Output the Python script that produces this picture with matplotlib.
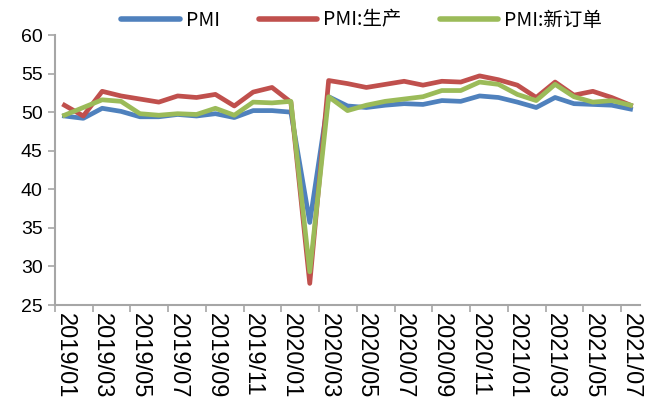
import matplotlib
matplotlib.use("Agg")
import matplotlib.pyplot as plt
import numpy as np

plt.rcParams['font.family'] = ['Liberation Sans', 'Noto Sans CJK SC', 'DejaVu Sans']

months = [f"{y}/{m:02d}" for y in (2019, 2020, 2021) for m in range(1, 13)][:31]

pmi = [49.5, 49.2, 50.5, 50.1, 49.4, 49.4, 49.7, 49.5, 49.8, 49.3, 50.2, 50.2,
       50.0, 35.7, 52.0, 50.8, 50.6, 50.9, 51.1, 51.0, 51.5, 51.4, 52.1, 51.9,
       51.3, 50.6, 51.9, 51.1, 51.0, 50.9, 50.4]
production = [50.9, 49.5, 52.7, 52.1, 51.7, 51.3, 52.1, 51.9, 52.3, 50.8, 52.6, 53.2,
              51.3, 27.8, 54.1, 53.7, 53.2, 53.6, 54.0, 53.5, 54.0, 53.9, 54.7, 54.2,
              53.5, 51.9, 53.9, 52.2, 52.7, 51.9, 50.9]
new_orders = [49.6, 50.6, 51.6, 51.4, 49.8, 49.6, 49.8, 49.7, 50.5, 49.6, 51.3, 51.2,
              51.4, 29.3, 52.0, 50.2, 50.9, 51.4, 51.7, 52.0, 52.8, 52.8, 53.9, 53.6,
              52.3, 51.5, 53.6, 52.0, 51.3, 51.5, 50.9]

series = [("PMI", pmi, "#4F81BD"),
          ("PMI:生产", production, "#C0504D"),
          ("PMI:新订单", new_orders, "#9BBB59")]

fig = plt.figure(figsize=(6.46, 4.05), dpi=100)
ax = fig.add_axes([55 / 646, 1 - 305 / 405, 585 / 646, 270 / 405])

x = np.arange(len(months))
for name, vals, color in series:
    ax.plot(x, vals, color=color, lw=3.4, label=name, solid_joinstyle="round")

ax.set_xlim(-0.5, len(months) - 0.5)
ax.set_ylim(25, 60)
ax.set_yticks(range(25, 61, 5))
ax.tick_params(axis="y", labelsize=14, color="#A6A6A6", length=5, width=1.2, pad=4)

# category labels every 2 months, ticks at category boundaries
ax.set_xticks(x[::2])
ax.set_xticklabels(months[::2], rotation=-90, fontsize=17, va="top", ha="center")
ax.set_xticks(np.arange(-0.5, len(months), 2), minor=True)
ax.tick_params(axis="x", which="major", length=0, pad=6)
ax.tick_params(axis="x", which="minor", length=5, width=1.2, color="#A6A6A6")

for s in ("top", "right"):
    ax.spines[s].set_visible(False)
for s in ("left", "bottom"):
    ax.spines[s].set_color("#A6A6A6")
    ax.spines[s].set_linewidth(1.5)

leg = fig.legend(loc="center", bbox_to_anchor=(0.56, 0.95), ncol=3, frameon=False,
                 handlelength=3.0, handletextpad=0.3, columnspacing=2.0,
                 prop={"family": ["Noto Sans CJK SC", "DejaVu Sans"], "size": 14})
for line in leg.get_lines():
    line.set_linewidth(4)
    line.set_solid_capstyle("round")

fig.savefig("out.png", dpi=100)
